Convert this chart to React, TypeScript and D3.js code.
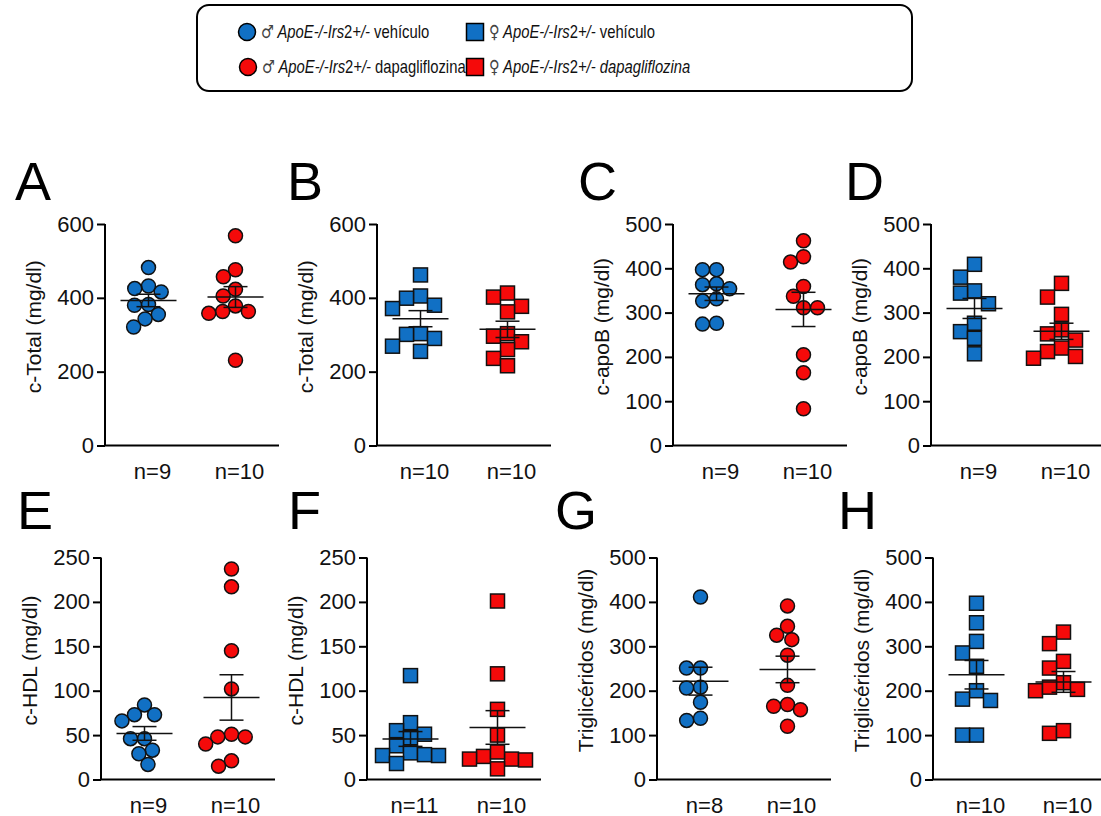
import React, { useEffect, useRef } from "react";
import * as d3 from "d3";

// A - c-Total, machos
const cTotalMachoVehiculo = [482, 432, 425, 416, 382, 380, 355, 343, 321];
const cTotalMachoDapa = [568, 476, 457, 423, 405, 378, 363, 358, 363, 231];
// B - c-Total, hembras
const cTotalHembraVehiculo = [462, 405, 399, 380, 371, 303, 290, 301, 269, 255];
const cTotalHembraDapa = [402, 413, 377, 362, 296, 303, 281, 260, 236, 216];
// C - c-apoB, machos
const apoBMachoVehiculo = [397, 397, 365, 363, 354, 331, 326, 274, 276];
const apoBMachoDapa = [462, 414, 426, 359, 337, 311, 311, 205, 164, 83];
// D - c-apoB, hembras
const apoBHembraVehiculo = [409, 380, 349, 344, 320, 276, 257, 242, 207];
const apoBHembraDapa = [366, 335, 296, 261, 252, 238, 220, 212, 201, 197];
// E - c-HDL, machos
const hdlMachoVehiculo = [84, 73, 73, 66, 46, 46, 33, 29, 17];
const hdlMachoDapa = [237, 217, 145, 102, 51, 48, 48, 40, 21, 15];
// F - c-HDL, hembras
const hdlHembraVehiculo = [117, 64, 55, 51, 47, 38, 30, 27, 27, 28, 18];
const hdlHembraDapa = [201, 119, 79, 50, 26, 23, 22, 23, 31, 12];
// G - trigliceridos, machos
const tgMachoVehiculo = [411, 251, 251, 208, 206, 174, 133, 138];
const tgMachoDapa = [391, 345, 315, 325, 280, 212, 169, 165, 157, 120];
// H - trigliceridos, hembras
const tgHembraVehiculo = [397, 353, 311, 285, 255, 200, 181, 178, 100, 100];
const tgHembraDapa = [332, 306, 266, 251, 218, 203, 200, 208, 104, 110];

const ticksTotal = [0, 200, 400, 600];
const ticks500 = [0, 100, 200, 300, 400, 500];
const ticksHdl = [0, 50, 100, 150, 200, 250];

const BLUE = "#1170c4";
const RED = "#f50a0a";
const FONT = "'Liberation Sans', Arial, sans-serif";

const rows = [
  { letterY: 200, top: 224, zero: 445.5 },
  { letterY: 529, top: 557.5, zero: 779.5 },
];

const panels = [
  { letter: "A", label: "c-Total (mg/dl)", ticks: ticksTotal, square: false, veh: cTotalMachoVehiculo, dapa: cTotalMachoDapa, lx: 15, ax: 105, row: 0 },
  { letter: "B", label: "c-Total (mg/dl)", ticks: ticksTotal, square: true, veh: cTotalHembraVehiculo, dapa: cTotalHembraDapa, lx: 287, ax: 377, row: 0 },
  { letter: "C", label: "c-apoB (mg/dl)", ticks: ticks500, square: false, veh: apoBMachoVehiculo, dapa: apoBMachoDapa, lx: 578, ax: 673, row: 0 },
  { letter: "D", label: "c-apoB (mg/dl)", ticks: ticks500, square: true, veh: apoBHembraVehiculo, dapa: apoBHembraDapa, lx: 845, ax: 931, row: 0 },
  { letter: "E", label: "c-HDL (mg/dl)", ticks: ticksHdl, square: false, veh: hdlMachoVehiculo, dapa: hdlMachoDapa, lx: 17, ax: 101, row: 1 },
  { letter: "F", label: "c-HDL (mg/dl)", ticks: ticksHdl, square: true, veh: hdlHembraVehiculo, dapa: hdlHembraDapa, lx: 288, ax: 367, row: 1 },
  { letter: "G", label: "Triglicéridos (mg/dl)", ticks: ticks500, square: false, veh: tgMachoVehiculo, dapa: tgMachoDapa, lx: 555, ax: 657, row: 1 },
  { letter: "H", label: "Triglicéridos (mg/dl)", ticks: ticks500, square: true, veh: tgHembraVehiculo, dapa: tgHembraDapa, lx: 838, ax: 933, row: 1 },
];

// simple beeswarm: each point goes to the x offset closest to centre that doesn't overlap
function dodge(ys: number[], D: number, square: boolean): number[] {
  const xs = new Array(ys.length).fill(0);
  const placed: { x: number; y: number }[] = [];
  const order = d3.range(ys.length).sort((a, b) => ys[a] - ys[b]);
  for (const i of order) {
    const y = ys[i];
    const blocks: [number, number][] = [];
    placed.forEach((p) => {
      const dy = Math.abs(p.y - y);
      if (dy < D) {
        const w = square ? D : Math.sqrt(D * D - dy * dy);
        blocks.push([p.x - w, p.x + w]);
      }
    });
    const cands = [0, ...blocks.flat()].sort((a, b) => Math.abs(a) - Math.abs(b));
    let x = 0;
    for (const c of cands) {
      if (blocks.every(([l, r]) => c <= l + 1e-6 || c >= r - 1e-6)) {
        x = c;
        break;
      }
    }
    xs[i] = x;
    placed.push({ x, y });
  }
  return xs;
}

const App = () => {
  const ref = useRef<SVGSVGElement>(null);

  useEffect(() => {
    const svg = d3.select(ref.current);
    svg.selectAll("*").remove();

    svg.append("rect").attr("width", 1101).attr("height", 816).attr("fill", "#fff");

    // legend
    const leg = svg.append("g");
    leg.append("rect")
      .attr("x", 197).attr("y", 5).attr("width", 715).attr("height", 86).attr("rx", 12)
      .attr("fill", "#fff").attr("stroke", "#000").attr("stroke-width", 2);

    const legendItems = [
      { sym: "♂", square: false, color: BLUE, x: 247, y: 32, trat: "vehículo", italic: false },
      { sym: "♂", square: false, color: RED, x: 248, y: 67, trat: "dapagliflozina", italic: false },
      { sym: "♀", square: true, color: BLUE, x: 475, y: 32, trat: "vehículo", italic: false },
      { sym: "♀", square: true, color: RED, x: 475, y: 67, trat: "dapagliflozina", italic: true },
    ];
    legendItems.forEach((it) => {
      if (it.square) {
        leg.append("rect")
          .attr("x", it.x - 8.5).attr("y", it.y - 8.5).attr("width", 17).attr("height", 17)
          .attr("fill", it.color).attr("stroke", "#000").attr("stroke-width", 1.5);
      } else {
        leg.append("circle")
          .attr("cx", it.x).attr("cy", it.y).attr("r", 8.5)
          .attr("fill", it.color).attr("stroke", "#000").attr("stroke-width", 1.5);
      }
      // narrow text like the original figure
      const t = leg.append("text")
        .attr("transform", `translate(${it.x + 14},${it.y + 6}) scale(0.8,1)`)
        .attr("font-family", FONT).attr("font-size", 18.5).attr("fill", "#111");
      t.append("tspan").attr("font-family", "'DejaVu Sans'").attr("font-size", 18).attr("fill", "#444").text(it.sym);
      t.append("tspan").attr("font-style", "italic").text(" ApoE-/-Irs");
      t.append("tspan").text("2");
      t.append("tspan").attr("font-style", "italic").text("+/-");
      t.append("tspan").attr("font-style", it.italic ? "italic" : "normal").text(" " + it.trat);
    });

    panels.forEach((p) => {
      const r = rows[p.row];
      const g = svg.append("g");
      const y = d3.scaleLinear().domain([0, d3.max(p.ticks) as number]).range([r.zero, r.top]);
      const x = d3.scalePoint<string>().domain(["veh", "dapa"]).range([p.ax, p.ax + 174]).padding(0.5);

      g.append("text")
        .attr("x", p.lx).attr("y", r.letterY)
        .attr("font-family", FONT).attr("font-size", 54).attr("fill", "#000")
        .text(p.letter);

      // y axis
      const yAxis = d3.axisLeft(y).tickValues(p.ticks).tickSize(8).tickPadding(3).tickFormat(d3.format("d"));
      const ag = g.append("g").attr("transform", `translate(${p.ax},0)`).call(yAxis);
      ag.select(".domain").attr("stroke", "#000").attr("stroke-width", 2).attr("d", `M0,${r.top}V${r.zero}`);
      ag.selectAll(".tick line").attr("stroke", "#000").attr("stroke-width", 2);
      ag.selectAll(".tick text")
        .attr("font-family", FONT).attr("font-size", 22).attr("fill", "#111");

      // x axis line
      g.append("line")
        .attr("x1", p.ax).attr("x2", p.ax + 174).attr("y1", r.zero).attr("y2", r.zero)
        .attr("stroke", "#000").attr("stroke-width", 2);

      g.append("text")
        .attr("transform", `translate(${p.ax - 64},${(r.top + r.zero) / 2 - 8}) rotate(-90)`)
        .attr("text-anchor", "middle")
        .attr("font-family", FONT).attr("font-size", 21).attr("fill", "#111")
        .text(p.label);

      const groups = [
        { key: "veh", vals: p.veh, color: BLUE },
        { key: "dapa", vals: p.dapa, color: RED },
      ];

      groups.forEach((grp) => {
        const cx = x(grp.key) as number;
        const ys = grp.vals.map((v) => y(v));
        const dx = dodge(ys, 14, p.square);
        grp.vals.forEach((v, i) => {
          if (p.square) {
            g.append("rect")
              .attr("x", cx + dx[i] - 7).attr("y", y(v) - 7).attr("width", 14).attr("height", 14)
              .attr("fill", grp.color).attr("stroke", "#111").attr("stroke-width", 1.5);
          } else {
            g.append("circle")
              .attr("cx", cx + dx[i]).attr("cy", y(v)).attr("r", 7)
              .attr("fill", grp.color).attr("stroke", "#111").attr("stroke-width", 1.5);
          }
        });

        const mean = d3.mean(grp.vals) as number;
        const sem = (d3.deviation(grp.vals) as number) / Math.sqrt(grp.vals.length);
        const line = (x1: number, y1: number, x2: number, y2: number) =>
          g.append("line").attr("x1", x1).attr("y1", y1).attr("x2", x2).attr("y2", y2)
            .attr("stroke", "#111").attr("stroke-width", 1.5);
        line(cx - 28, y(mean), cx + 28, y(mean));
        line(cx, y(mean + sem), cx, y(mean - sem));
        line(cx - 12, y(mean + sem), cx + 12, y(mean + sem));
        line(cx - 12, y(mean - sem), cx + 12, y(mean - sem));

        g.append("text")
          .attr("x", cx + 4).attr("y", r.zero + 33)
          .attr("text-anchor", "middle")
          .attr("font-family", FONT).attr("font-size", 22).attr("fill", "#111")
          .text(`n=${grp.vals.length}`);
      });
    });
  }, []);

  return (
    <svg
      ref={ref}
      width={1101}
      height={816}
      style={{ position: "absolute", left: 0, top: 0, display: "block" }}
    ></svg>
  );
};

export default App;
